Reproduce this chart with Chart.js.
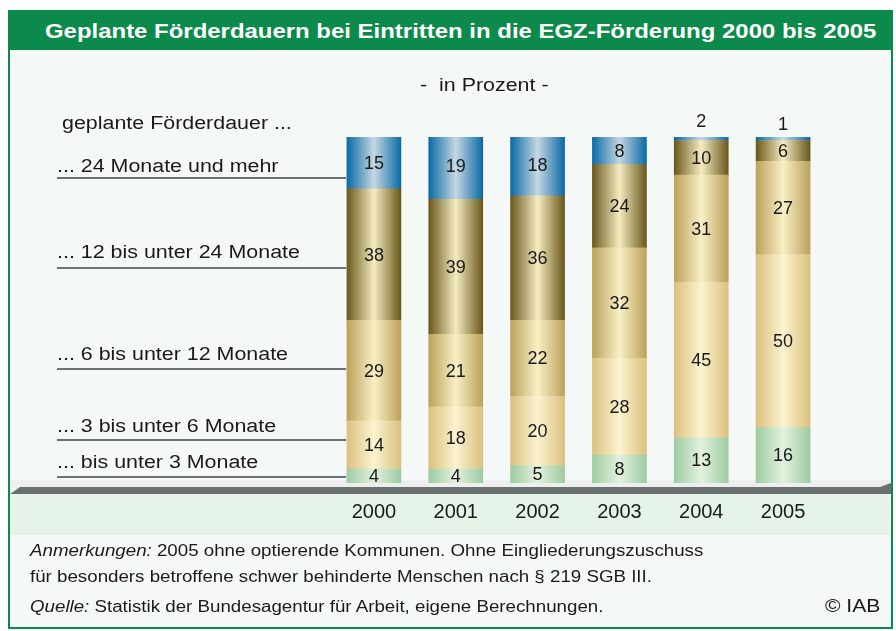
<!DOCTYPE html>
<html><head><meta charset="utf-8">
<script src="https://cdn.jsdelivr.net/npm/chart.js@4.4.1/dist/chart.umd.min.js"></script>
<style>
html,body{margin:0;padding:0;background:#fff;}
body{width:896px;height:631px;position:relative;overflow:hidden;font-family:"Liberation Sans",Arial,sans-serif;color:#1a1a1a;}
#panel{position:absolute;left:8px;top:10px;width:881px;height:617px;border:2px solid #0b8a4b;border-top:none;background:#f4f8f7;}
#titlebar{position:absolute;left:8px;top:10px;width:885px;height:40px;background:#0b8a4b;}
#title{position:absolute;left:45px;top:11px;height:40px;line-height:40px;color:#fff;font-weight:bold;font-size:21px;white-space:nowrap;transform:scaleX(1.14);transform-origin:0 0;}
#c{position:absolute;left:0;top:0;}
.t{position:absolute;white-space:nowrap;font-size:18px;line-height:22px;transform:scaleX(1.19);transform-origin:0 0;}
.ln{position:absolute;height:2px;background:#6e7272;}
.note{position:absolute;left:30px;white-space:nowrap;font-size:16px;line-height:20px;transform:scaleX(1.17);transform-origin:0 0;}
</style>
</head><body>
<div id="panel"></div>
<div id="titlebar"></div>
<div id="title">Geplante Förderdauern bei Eintritten in die EGZ-Förderung 2000 bis 2005</div>
<canvas id="c" width="896" height="631"></canvas>
<div class="t" style="left:420px;top:74px;">-&nbsp; in Prozent -</div>
<div class="t" style="left:62px;top:112px;">geplante Förderdauer ...</div>
<div id="legend"></div>
<div class="note" style="top:541px;"><i>Anmerkungen:</i> 2005 ohne optierende Kommunen. Ohne Eingliederungszuschuss</div>
<div class="note" style="top:567px;">für besonders betroffene schwer behinderte Menschen nach § 219 SGB III.</div>
<div class="note" style="top:597px;"><i>Quelle:</i> Statistik der Bundesagentur für Arbeit, eigene Berechnungen.</div>
<div class="note" style="left:825px;top:596px;font-size:18px;">© IAB</div>
<script>
// ---- data ----
const years = ["2000", "2001", "2002", "2003", "2004", "2005"];
const seriesNames = ["... bis unter 3 Monate", "... 3 bis unter 6 Monate", "... 6 bis unter 12 Monate", "... 12 bis unter 24 Monate", "... 24 Monate und mehr"];
const under3 = [4, 4, 5, 8, 13, 16];
const from3to6 = [14, 18, 20, 28, 45, 50];
const from6to12 = [29, 21, 22, 32, 31, 27];
const from12to24 = [38, 39, 36, 24, 10, 6];
const over24 = [15, 19, 18, 8, 2, 1];

// ---- styles ----
const edgeCols = ["#9ecba2", "#dbc17e", "#bca25a", "#6a581c", "#0a6aa5"];
const midCols  = ["#e3f2de", "#fcf3d0", "#f9efc6", "#f5ecc1", "#c6d7e3"];
const legendPos = [[462, 477], [426, 440], [354, 369], [252, 268], [166, 178]];

const leg = document.getElementById('legend');
seriesNames.forEach((n, i) => {
  const [ty, ly] = legendPos[i];
  const d = document.createElement('div'); d.className = 't';
  d.style.left = '57px'; d.style.top = (ty - 11) + 'px'; d.textContent = n; leg.appendChild(d);
  const l = document.createElement('div'); l.className = 'ln';
  l.style.left = '57px'; l.style.width = '289px'; l.style.top = (ly - 1) + 'px'; leg.appendChild(l);
});

const BW = 54;
function grad(i) {
  return (ctx) => {
    const chart = ctx.chart, xs = chart.scales && chart.scales.x;
    if (!xs || ctx.dataIndex === undefined) return edgeCols[i];
    const cx = xs.getPixelForValue(ctx.dataIndex);
    if (!isFinite(cx)) return edgeCols[i];
    const g = chart.ctx.createLinearGradient(cx - BW / 2, 0, cx + BW / 2, 0);
    g.addColorStop(0, edgeCols[i]);
    g.addColorStop(0.5, midCols[i]);
    g.addColorStop(1, edgeCols[i]);
    return g;
  };
}

const floorPlugin = {
  id: 'floor',
  beforeDraw(chart) {
    const c = chart.ctx;
    c.save();
    c.fillStyle = '#ecefed'; c.fillRect(10, 480, 880, 8);
    c.fillStyle = '#e5f3e9'; c.fillRect(10, 494, 880, 41);
    c.fillStyle = '#6a7070';
    c.beginPath(); c.moveTo(10, 494); c.lineTo(20, 487); c.lineTo(880, 487); c.lineTo(891, 483); c.lineTo(891, 494); c.closePath(); c.fill();
    c.restore();
  }
};

const labelPlugin = {
  id: 'vals',
  afterDatasetsDraw(chart) {
    const c = chart.ctx;
    c.save();
    c.font = '18px "Liberation Sans", Arial, sans-serif';
    c.fillStyle = '#1a1a1a'; c.textAlign = 'center'; c.textBaseline = 'middle';
    chart.data.datasets.forEach((ds, di) => {
      const meta = chart.getDatasetMeta(di);
      meta.data.forEach((el, i) => {
        const v = ds.data[i];
        let y = (el.y + el.base) / 2;
        if (v <= 2) y = el.y - 13;
        c.fillText(String(v), el.x, y + 1);
      });
    });
    c.restore();
  }
};

const dataArrays = [under3, from3to6, from6to12, from12to24, over24];
new Chart(document.getElementById('c'), {
  type: 'bar',
  data: {
    labels: years,
    datasets: dataArrays.map((d, i) => ({
      label: seriesNames[i], data: d, backgroundColor: grad(i), borderWidth: 0, barThickness: BW
    }))
  },
  options: {
    responsive: false, animation: false, events: [],
    layout: { padding: { left: 333, right: 72, top: 137, bottom: 90 } },
    plugins: { legend: { display: false }, tooltip: { enabled: false }, title: { display: false } },
    scales: {
      x: { stacked: true, offset: true, grid: { display: false, drawTicks: false }, border: { display: false },
           ticks: { padding: 17, color: '#1a1a1a', font: { size: 20, family: '"Liberation Sans", Arial, sans-serif' }, maxRotation: 0, autoSkip: false } },
      y: { stacked: true, display: false, min: 0, max: 100 }
    }
  },
  plugins: [floorPlugin, labelPlugin]
});
</script>
</body></html>
